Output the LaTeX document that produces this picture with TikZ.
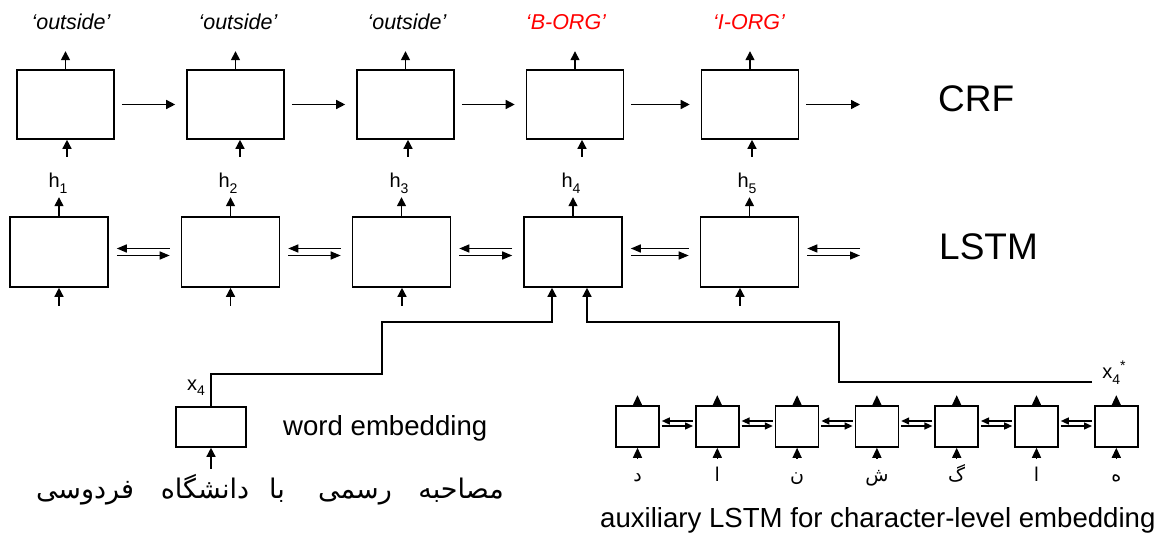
\documentclass[tikz,border=0pt]{standalone}
\usepackage{fontspec}
\setmainfont{Liberation Sans}
\newfontfamily\arabicfont[Script=Arabic]{DejaVu Sans}
\TeXXeTstate=1
\usetikzlibrary{arrows.meta}

% subscript / superscript helpers for the index labels
\newcommand{\lowidx}[1]{\raisebox{-0.28em}{\fontsize{14}{14}\selectfont #1}}
\newcommand{\highmark}[1]{\raisebox{0.45em}{\fontsize{14}{14}\selectfont #1}}
\newcommand{\fa}[1]{{\arabicfont\beginR #1\endR}}

\begin{document}
\begin{tikzpicture}[x=1pt, y=-1pt,
  crfcell/.style={draw, line width=1.6pt, minimum width=97pt, minimum height=69pt, inner sep=0pt},
  lstmcell/.style={draw, line width=1.6pt, minimum width=98pt, minimum height=70pt, inner sep=0pt},
  embcell/.style={draw, line width=1.6pt, minimum width=70pt, minimum height=40pt, inner sep=0pt},
  charcell/.style={draw, line width=1.6pt, minimum width=43pt, minimum height=41pt, inner sep=0pt},
  arr/.style={line width=1.4pt, -{Triangle[length=9pt, width=9pt]}},
  thinarr/.style={line width=1.4pt, -{Triangle[length=10pt, width=8pt]}},
  headonly/.style={line width=1.4pt, -{Triangle[length=10pt, width=9pt]}},
  tinyarr/.style={line width=1.4pt, -{Triangle[length=8pt, width=7pt]}},
  txt/.style={inner sep=0pt, anchor=base},
  tag/.style={txt, font=\fontsize{21.5}{24}\selectfont\itshape},
  hlab/.style={txt, font=\fontsize{20}{24}\selectfont},
  big/.style={inner sep=0pt, anchor=base west, font=\fontsize{37}{40}\selectfont},
  note/.style={inner sep=0pt, anchor=base west, font=\fontsize{27.6}{30}\selectfont},
  farsi/.style={txt, font=\fontsize{27}{30}\selectfont},
  letter/.style={txt, font=\fontsize{19}{22}\selectfont}
]
\useasboundingbox (0,0) rectangle (1159,534);

% ---------- CRF layer ----------
\foreach \i/\x in {1/65.5, 2/235.5, 3/405.5, 4/575, 5/750}
  \node[crfcell] (crf\i) at (\x,104.5) {};

\node[tag] (t1) at (71,30)  {‘outside’};
\node[tag] (t2) at (238,30) {‘outside’};
\node[tag] (t3) at (407,30) {‘outside’};
\node[tag, text=red] (t4) at (566,30) {‘B-ORG’};
\node[tag, text=red] (t5) at (749,30) {‘I-ORG’};

\foreach \i in {1,...,5}
  \draw[arr] (crf\i.north) -- ++(0,-18);

\foreach \i/\s in {1/1.5, 2/4.5, 3/2.5, 4/7, 5/2}
  \draw[arr] ([xshift=\s pt, yshift=-17pt]crf\i.south) -- ([xshift=\s pt]crf\i.south);

\foreach \i/\j in {1/2, 2/3, 3/4, 4/5}
  \draw[arr, shorten <=7pt, shorten >=11pt] (crf\i.east) -- (crf\j.west);
\coordinate (crfout) at (860,104.5);
\draw[arr, shorten <=7pt] (crf5.east) -- (crfout);

\node[big] (crflab) at (938,112) {CRF};

% ---------- BiLSTM layer ----------
\foreach \i/\x in {1/59, 2/230.5, 3/401.5, 4/573, 5/749.5}
  \node[lstmcell] (lstm\i) at (\x,252) {};

\foreach \i/\x in {1/58, 2/228, 3/399, 4/571, 5/747}
  \node[hlab] (h\i) at (\x,188) {h\lowidx{\i}};

\foreach \i in {1,...,5}
  \draw[arr] (lstm\i.north) -- ++(0,-19);

\foreach \i/\s in {1/0, 2/0, 3/0.5, 5/-9.5}
  \draw[arr] ([xshift=\s pt, yshift=-18pt]lstm\i.south) -- ([xshift=\s pt]lstm\i.south);

\foreach \i/\j in {1/2, 2/3, 3/4, 4/5} {
  \draw[thinarr] ([xshift=-11pt, yshift=3.5pt]lstm\j.west) -- ([xshift=8pt, yshift=3.5pt]lstm\i.east);
  \draw[thinarr] ([xshift=8pt, yshift=-3.5pt]lstm\i.east) -- ([xshift=-11pt, yshift=-3.5pt]lstm\j.west);
}
\coordinate (lstmout) at (860,252);
\draw[thinarr] ([yshift=3.5pt]lstmout) -- ([xshift=8pt, yshift=3.5pt]lstm5.east);
\draw[thinarr] ([xshift=8pt, yshift=-3.5pt]lstm5.east) -- ([yshift=-3.5pt]lstmout);

\node[big] (lstmlab) at (939,260) {LSTM};

% ---------- word embedding ----------
\node[embcell] (wbox) at (211,427) {};
\node[hlab] (x4) at (196,390) {x\lowidx{4}};
\node[note] (wlab) at (283,435) {word embedding};
\draw[arr] ([yshift=-21pt]wbox.south) -- (wbox.south);

\coordinate (wbend1) at (382,374);
\coordinate (wbend2) at (552,322);
\draw[arr] (wbox.north) |- (wbend1) |- (wbend2) -- ([xshift=-21pt]lstm4.south);

% Persian sentence, one word per node
\node[farsi] (w1) at (461,498) {\fa{مصاحبه}};
\node[farsi] (w2) at (355,498) {\fa{رسمی}};
\node[farsi] (w3) at (277,498) {\fa{با}};
\node[farsi] (w4) at (205,498) {\fa{دانشگاه}};
\node[farsi] (w5) at (85,498)  {\fa{فردوسی}};

% ---------- character-level LSTM ----------
\foreach \i/\c in {1/د, 2/ا, 3/ن, 4/ش, 5/گ, 6/ا, 7/ه} {
  \node[charcell] (c\i) at ({637.5+79.8*(\i-1)},426.5) {};
  \node[letter] (l\i) at ({637.5+79.8*(\i-1)},481) {\fa{\c}};
  \draw[headonly] (c\i.north) -- ++(0,-10);
  \draw[headonly] ([yshift=-11pt]c\i.south) -- (c\i.south);
}
\foreach \i/\j in {1/2, 2/3, 3/4, 4/5, 5/6, 6/7} {
  \draw[tinyarr] ([xshift=-2pt, yshift=5.5pt]c\j.west) -- ([xshift=2pt, yshift=5.5pt]c\i.east);
  \draw[tinyarr] ([xshift=2pt, yshift=0.5pt]c\i.east) -- ([xshift=-2pt, yshift=0.5pt]c\j.west);
}

\node[hlab] (x4s) at (1114,379) {x\lowidx{4}\highmark{*}};
\coordinate (cend) at (1092,382);
\coordinate (cbend) at (839,322);
\draw[arr] (cend) -| (cbend) -| ([xshift=14pt]lstm4.south);

\node[note] (auxlab) at (600,527) {auxiliary LSTM for character-level embedding};
\end{tikzpicture}
\end{document}
